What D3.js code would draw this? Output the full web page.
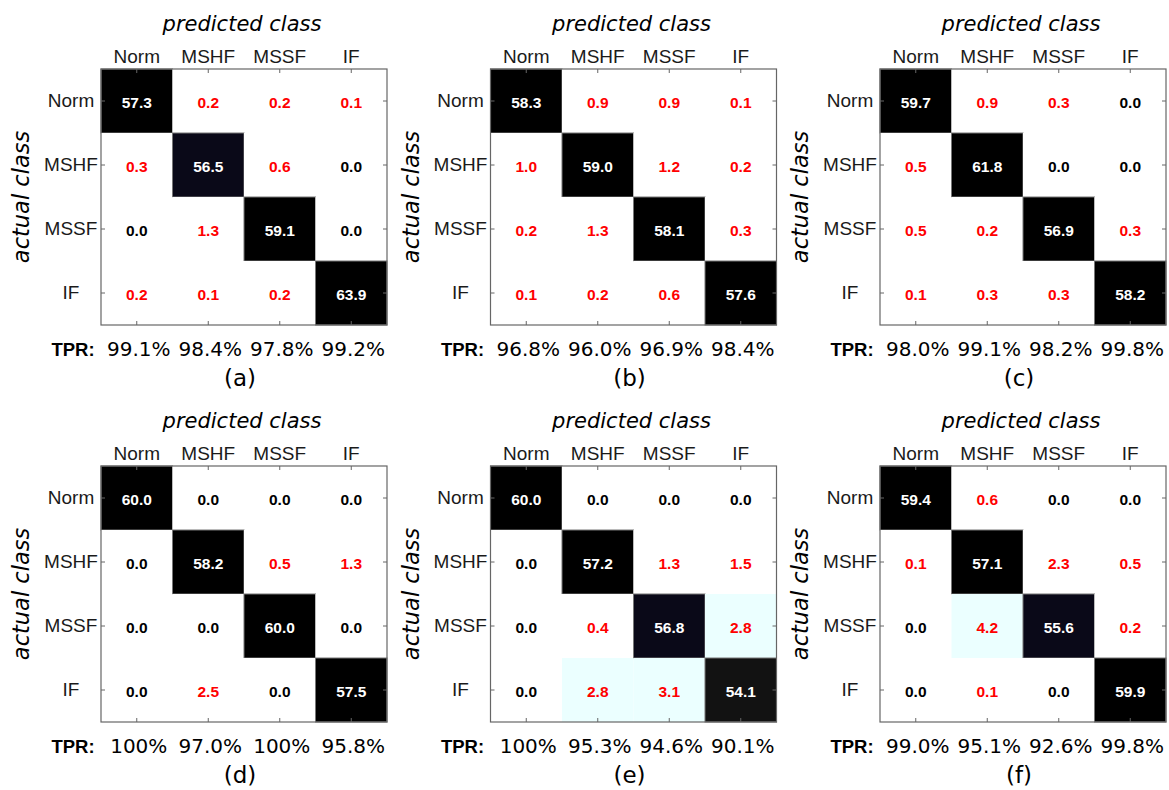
<!DOCTYPE html>
<html>
<head>
<meta charset="utf-8">
<script src="https://cdn.jsdelivr.net/npm/d3@7"></script>
<style>
  html, body { margin: 0; padding: 0; background: #fff; }
  svg { display: block; }
</style>
</head>
<body>
<svg id="chart" width="1169" height="790"></svg>
<script>
const categories = ["Norm", "MSHF", "MSSF", "IF"];
const panelLabels = ["(a)", "(b)", "(c)", "(d)", "(e)", "(f)"];

const matrixA = [[57.3, 0.2, 0.2, 0.1], [0.3, 56.5, 0.6, 0.0], [0.0, 1.3, 59.1, 0.0], [0.2, 0.1, 0.2, 63.9]];
const matrixB = [[58.3, 0.9, 0.9, 0.1], [1.0, 59.0, 1.2, 0.2], [0.2, 1.3, 58.1, 0.3], [0.1, 0.2, 0.6, 57.6]];
const matrixC = [[59.7, 0.9, 0.3, 0.0], [0.5, 61.8, 0.0, 0.0], [0.5, 0.2, 56.9, 0.3], [0.1, 0.3, 0.3, 58.2]];
const matrixD = [[60.0, 0.0, 0.0, 0.0], [0.0, 58.2, 0.5, 1.3], [0.0, 0.0, 60.0, 0.0], [0.0, 2.5, 0.0, 57.5]];
const matrixE = [[60.0, 0.0, 0.0, 0.0], [0.0, 57.2, 1.3, 1.5], [0.0, 0.4, 56.8, 2.8], [0.0, 2.8, 3.1, 54.1]];
const matrixF = [[59.4, 0.6, 0.0, 0.0], [0.1, 57.1, 2.3, 0.5], [0.0, 4.2, 55.6, 0.2], [0.0, 0.1, 0.0, 59.9]];

const tprA = ["99.1%", "98.4%", "97.8%", "99.2%"];
const tprB = ["96.8%", "96.0%", "96.9%", "98.4%"];
const tprC = ["98.0%", "99.1%", "98.2%", "99.8%"];
const tprD = ["100%", "97.0%", "100%", "95.8%"];
const tprE = ["100%", "95.3%", "94.6%", "90.1%"];
const tprF = ["99.0%", "95.1%", "92.6%", "99.8%"];

const matrices = [matrixA, matrixB, matrixC, matrixD, matrixE, matrixF];
const tprs = [tprA, tprB, tprC, tprD, tprE, tprF];

// layout
const boxW = 286, boxH = 256;
const originX = 101, stepX = 389.5;
const originY = 69, stepY = 397;

const color = d3.scaleThreshold()
  .domain([2.6, 10, 55, 56.85])
  .range(["#ffffff", "#ebffff", "#121212", "#0a0918", "#000000"]);

const svg = d3.select("#chart");
svg.append("rect").attr("width", 1169).attr("height", 790).attr("fill", "#fff");

const x = d3.scaleBand().domain(categories).range([0, boxW]);
const y = d3.scaleBand().domain(categories).range([0, boxH]);

matrices.forEach((m, p) => {
  const col = p % 3, row = Math.floor(p / 3);
  const g = svg.append("g")
    .attr("transform", `translate(${originX + col * stepX},${originY + row * stepY})`);

  const cells = [];
  m.forEach((r, i) => r.forEach((v, j) => cells.push({ i, j, v })));

  g.selectAll("rect.cell").data(cells).join("rect")
    .attr("class", "cell")
    .attr("x", d => x(categories[d.j]))
    .attr("y", d => y(categories[d.i]))
    .attr("width", x.bandwidth())
    .attr("height", y.bandwidth())
    .attr("fill", d => color(d.v))
    .attr("stroke", d => d.i === d.j ? "#777" : "none")
    .attr("stroke-width", 1);

  g.selectAll("text.val").data(cells).join("text")
    .attr("class", "val")
    .attr("x", d => x(categories[d.j]) + x.bandwidth() / 2)
    .attr("y", d => y(categories[d.i]) + y.bandwidth() / 2 + 1)
    .attr("text-anchor", "middle")
    .attr("dominant-baseline", "central")
    .attr("font-family", "Liberation Sans, Arial, sans-serif")
    .attr("font-weight", "bold")
    .attr("font-size", 15.5)
    .attr("fill", d => d.i === d.j ? "#ffffff" : (d.v > 0 ? "#ff0000" : "#000000"))
    .text(d => d.v.toFixed(1));

  // axes
  const top = g.append("g").call(d3.axisTop(x).tickSize(-4).tickPadding(6));
  const left = g.append("g").call(d3.axisLeft(y).tickSize(-4).tickPadding(6));
  const bottom = g.append("g").attr("transform", `translate(0,${boxH})`)
    .call(d3.axisBottom(x).tickSize(-4).tickPadding(17).tickFormat((d, k) => tprs[p][k]));
  const right = g.append("g").attr("transform", `translate(${boxW},0)`)
    .call(d3.axisRight(y).tickSize(-4).tickFormat(""));
  [top, left, bottom, right].forEach(a => {
    a.select(".domain").remove();
    a.selectAll(".tick line").attr("stroke", "#666");
  });
  top.selectAll("text")
    .attr("font-family", "Liberation Sans, Arial, sans-serif")
    .attr("font-size", 19).attr("fill", "#1a1a1a");
  left.selectAll("text")
    .attr("font-family", "Liberation Sans, Arial, sans-serif")
    .attr("font-size", 19).attr("fill", "#1a1a1a")
    .attr("text-anchor", "middle").attr("x", -30).attr("dy", "0.32em");
  bottom.selectAll("text")
    .attr("font-family", "DejaVu Sans, Verdana, sans-serif")
    .attr("font-size", 20).attr("fill", "#000").attr("dx", 2);

  // box
  g.append("rect").attr("width", boxW).attr("height", boxH)
    .attr("fill", "none").attr("stroke", "#666").attr("stroke-width", 1.2);

  // TPR label
  g.append("text")
    .attr("x", -28).attr("y", boxH + 31)
    .attr("text-anchor", "middle")
    .attr("font-family", "Liberation Sans, Arial, sans-serif")
    .attr("font-weight", "bold").attr("font-size", 18.5)
    .text("TPR:");

  // titles
  g.append("text")
    .attr("x", boxW / 2 - 2).attr("y", -38)
    .attr("text-anchor", "middle")
    .attr("font-family", "DejaVu Sans, Verdana, sans-serif")
    .attr("font-style", "italic").attr("font-size", 21)
    .text("predicted class");

  g.append("text")
    .attr("transform", `translate(-72,${boxH / 2}) rotate(-90)`)
    .attr("text-anchor", "middle")
    .attr("font-family", "DejaVu Sans, Verdana, sans-serif")
    .attr("font-style", "italic").attr("font-size", 22.5)
    .text("actual class");

  g.append("text")
    .attr("x", boxW / 2 - 4).attr("y", boxH + 61)
    .attr("text-anchor", "middle")
    .attr("font-family", "DejaVu Sans, Verdana, sans-serif")
    .attr("font-size", 23)
    .text(panelLabels[p]);
});
</script>
</body>
</html>
